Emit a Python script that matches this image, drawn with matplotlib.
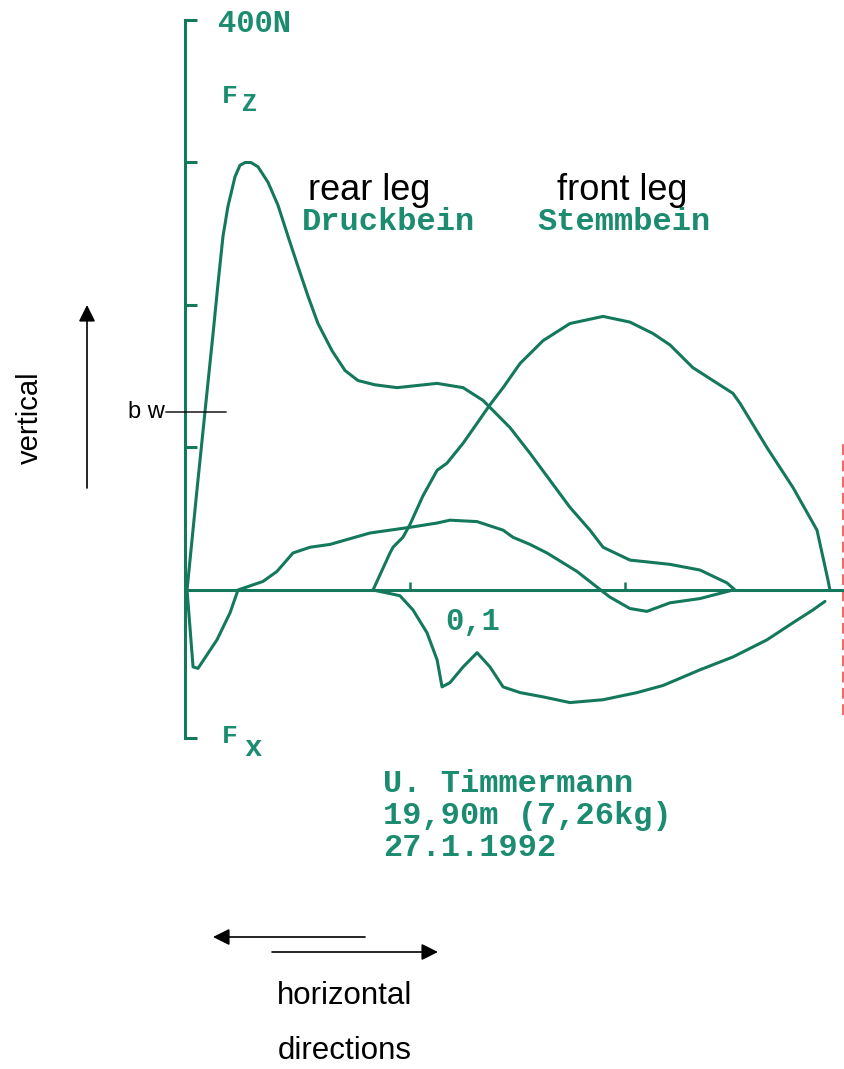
import matplotlib
matplotlib.use("Agg")
from matplotlib import pyplot as plt

# ground reaction forces, time in ms, force in N
rear_fz_t = [-3.7, 0.9, 6.0, 8.4, 10.7, 13.0, 15.3, 18.6, 20.9, 23.3, 26.0, 29.3, 34.0,
             38.6, 43.3, 47.9, 52.6, 57.2, 63.7, 69.8, 75.8, 83.7, 94.0, 112.6, 124.7,
             134.0, 146.5, 155.8, 165.1, 174.4, 183.7, 189.8, 202.3, 220.9, 234.9, 247.4, 251.2]
rear_fz_f = [0, 70, 145, 180, 215, 248, 269, 290, 298, 300, 300, 297, 286,
             270, 248, 227, 206, 187, 168, 154, 147, 144, 142, 145, 142,
             133, 114, 96, 77, 58, 42, 30, 21, 18, 14, 5, 0]

front_fz_t = [82.8, 90.7, 92.1, 96.7, 100.0, 106.0, 112.6, 117.2, 124.7, 131.2, 137.2,
              143.3, 151.2, 161.9, 174.4, 189.8, 202.3, 213.0, 220.9, 231.6, 250.2,
              253.5, 266.0, 278.1, 289.3, 294.4, 295.3]
front_fz_f = [0, 26, 30, 37, 46, 66, 84, 89, 103, 117, 130,
              142, 159, 175, 187, 192, 188, 180, 172, 156, 138,
              131, 100, 72, 42, 7, 0]

rear_fx_t = [-3.7, -0.9, 1.4, 10.2, 16.3, 20.0, 31.6, 38.1, 45.6, 53.5, 62.8, 81.4,
             100.0, 112.6, 118.6, 131.2, 143.3, 147.9, 155.8, 163.7, 177.7, 187.0,
             193.0, 202.3, 210.2, 220.9, 234.9, 250.2]
rear_fx_f = [0, -54, -55, -35, -16, 0, 6, 13, 26, 30, 32, 40,
             44, 47, 49, 48, 42, 37, 32, 26, 13, 2,
             -5, -13, -15, -9, -6, 0]

front_fx_t = [82.8, 95.3, 101.4, 107.9, 112.6, 114.9, 118.6, 124.7, 131.2, 137.2, 143.3,
              151.2, 161.9, 174.4, 189.8, 205.6, 217.7, 234.9, 250.2, 266.0, 278.1,
              287.4, 293.0]
front_fx_f = [0, -4, -14, -30, -49, -68, -65, -54, -44, -54, -68,
              -72, -75, -79, -77, -72, -67, -56, -47, -35, -23,
              -14, -8]

y_ticks = [-104, 100, 200, 300, 400]
x_ticks = [100, 200]
cut_t = 301.2
cut_f = (-88, 104)

W, H = 844, 1069
# scan scale: 0.1 s = 215 px, 100 N = 142.5 px
px_ms = 2.15
px_n = 1.425
x0, y0 = 195, 590

green = "#13785c"
teal = "#1c8c70"
mono = "Liberation Mono"
sans = "Liberation Sans"

fig = plt.figure(figsize=(W / 100, H / 100), dpi=100)
ax = fig.add_axes([0, 0, 1, 1])
ax.set_xlim(-x0 / px_ms, (W - x0) / px_ms)
ax.set_ylim((y0 - H) / px_n, y0 / px_n)

for s in ["top", "right"]:
    ax.spines[s].set_visible(False)
axis_t = (185 - x0) / px_ms
ax.spines["left"].set_position(("data", axis_t))
ax.spines["left"].set_bounds(y_ticks[0], y_ticks[-1])
ax.spines["bottom"].set_position(("data", 0))
ax.spines["bottom"].set_bounds(axis_t, (W - x0) / px_ms)
for s in ["left", "bottom"]:
    ax.spines[s].set_color(green)
    ax.spines[s].set_linewidth(2.2)
ax.set_yticks(y_ticks)
ax.set_yticklabels([])
ax.set_xticks(x_ticks)
ax.set_xticklabels([])
ax.tick_params(axis="y", direction="in", length=8.6, width=2.2, color=green)
ax.tick_params(axis="x", direction="in", length=6, width=1.8, color=green)

for t, f in [(rear_fz_t, rear_fz_f), (front_fz_t, front_fz_f),
             (rear_fx_t, rear_fx_f), (front_fx_t, front_fx_f)]:
    ax.plot(t, f, color=green, lw=2.2, solid_joinstyle="round", solid_capstyle="round")

ax.vlines(cut_t, cut_f[0], cut_f[1], colors="#f05a5a", linestyles=(0, (6, 3)), lw=1.3)


def put(x, y, s, **kw):
    fig.text(x / W, 1 - y / H, s, **kw)


mono_kw = dict(family=mono, weight="bold", color=teal, va="baseline", ha="left")
put(218, 32, "400N", size=22, **mono_kw)
put(222, 103, "F", size=19, **mono_kw)
put(242, 111, "Z", size=18, **mono_kw)
put(222, 743, "F", size=19, **mono_kw)
put(244, 756, "x", size=21, **mono_kw)
put(445, 630, "0,1", size=22, **mono_kw)
put(302, 230, "Druckbein", size=23, **mono_kw)
put(537, 230, "Stemmbein", size=23, **mono_kw)
put(383, 792, "U. Timmermann", size=23, **mono_kw)
put(383, 824, "19,90m (7,26kg)", size=23, **mono_kw)
put(383, 856, "27.1.1992", size=23, **mono_kw)

put(308, 200, "rear leg", family=sans, size=26, va="baseline")
put(557, 200, "front leg", family=sans, size=26, va="baseline")
put(30, 418, "vertical", family=sans, size=21, rotation=90, ha="center", va="center")
put(128, 418, "b w", family=sans, size=17, va="baseline")
put(345, 996, "horizontal", family=sans, size=22.5, ha="center", va="center")
put(345, 1051, "directions", family=sans, size=22.5, ha="center", va="center")

arrow = dict(arrowstyle="-|>", mutation_scale=25, lw=1.2, color="black",
             shrinkA=0, shrinkB=0)
ax.annotate("", xy=(87, H - 305), xytext=(87, H - 488), xycoords="figure pixels",
            arrowprops=arrow)
ax.annotate("", xy=(213, H - 937), xytext=(365, H - 937), xycoords="figure pixels",
            arrowprops=arrow)
ax.annotate("", xy=(438, H - 952), xytext=(272, H - 952), xycoords="figure pixels",
            arrowprops=arrow)
ax.annotate("", xy=(229, H - 412), xytext=(163, H - 412), xycoords="figure pixels",
            arrowprops=dict(arrowstyle="-", lw=1.0, color="black"))

fig.savefig("out.png", dpi=100)
